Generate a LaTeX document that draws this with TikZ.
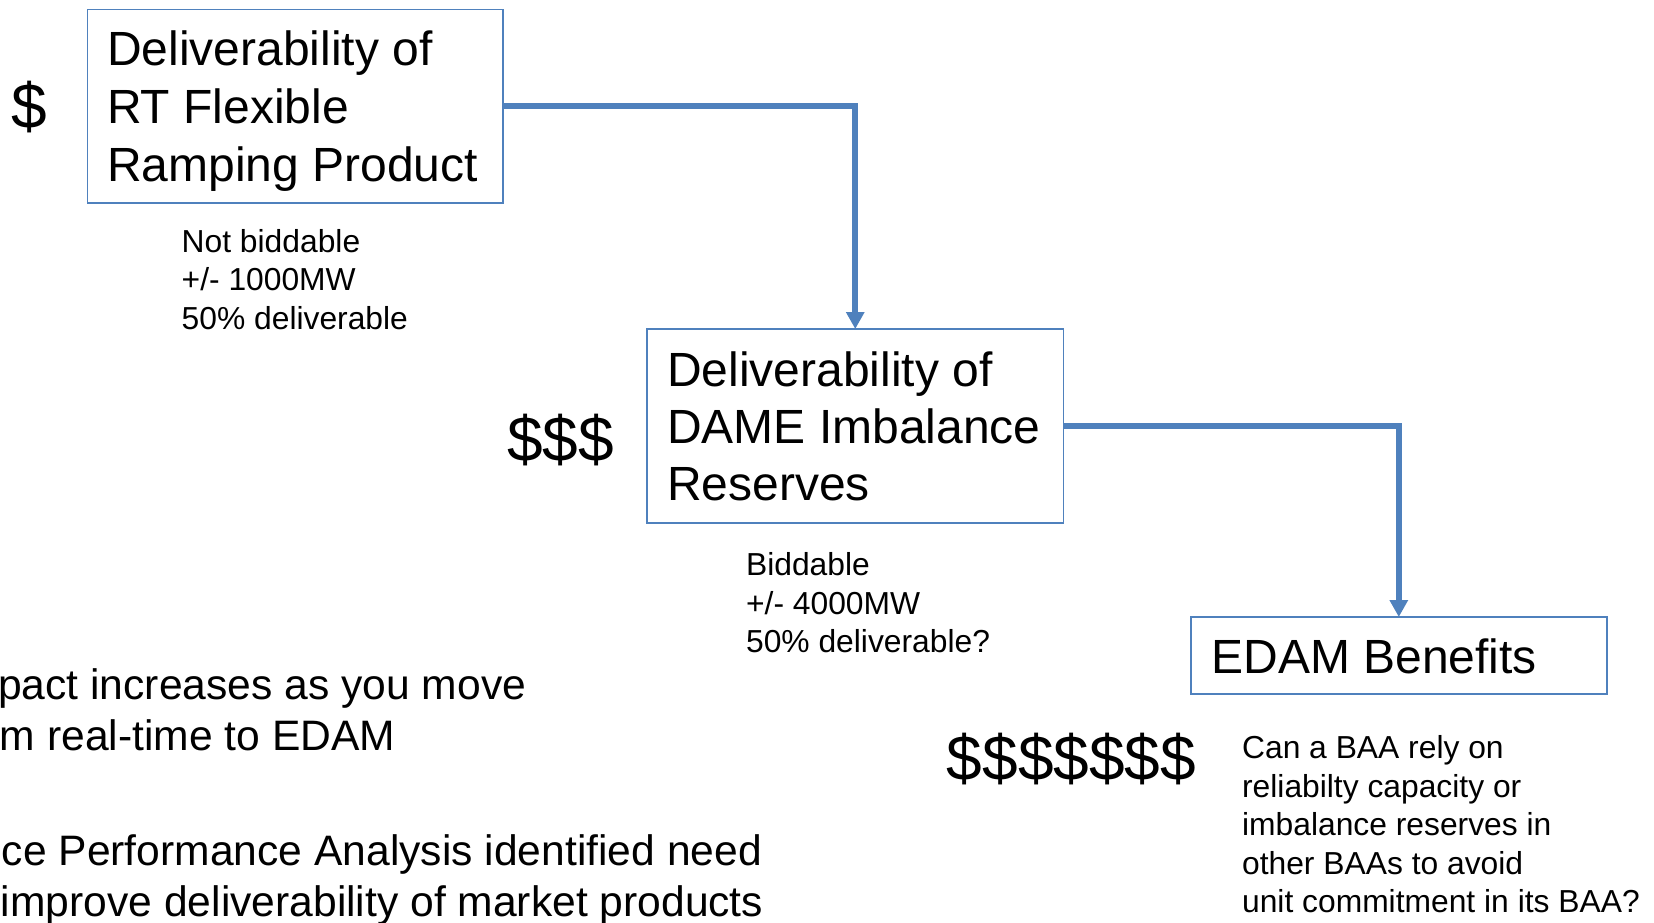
\documentclass[tikz,border=0pt]{standalone}
\usepackage{fontspec}
\setmainfont{Liberation Sans}
\usetikzlibrary{arrows.meta}
\definecolor{boxblue}{RGB}{79,129,189}
\begin{document}
\begin{tikzpicture}[x=0.5pt,y=-0.5pt,
  box/.style={draw=boxblue, line width=0.8pt, inner sep=0pt, outer sep=0pt, rectangle},
  conn/.style={draw=boxblue, line width=2.8pt, -{Triangle[width=8.8pt,length=8.5pt]}},
  big/.style={anchor=base west, inner sep=0pt, font=\fontsize{24pt}{29pt}\selectfont},
  small/.style={anchor=base west, inner sep=0pt, font=\fontsize{15.9pt}{19pt}\selectfont},
  mid/.style={anchor=base west, inner sep=0pt, font=\fontsize{21.3pt}{25pt}\selectfont},
  money/.style={anchor=base west, inner sep=0pt, font=\fontsize{32pt}{38pt}\selectfont}]
\clip (0,0) rectangle (1654,922);
\fill[white] (0,0) rectangle (1654,922);

% boxes
\node[box, minimum width=207.7pt, minimum height=96.7pt] (b1) at (295,106) {};
\node[box, minimum width=208.35pt, minimum height=96.85pt] (b2) at (855.25,425.85) {};
\node[box, minimum width=207.9pt, minimum height=38.5pt] (b3) at (1398.8,655.5) {};

% box texts
\node[big] (b1l1) at (106.7,65) {Deliverability of};
\node[big] (b1l2) at (106.7,123.3) {RT Flexible};
\node[big] (b1l3) at (106.7,181.6) {Ramping Product};
\node[big] (b2l1) at (666.7,386) {Deliverability of};
\node[big] (b2l2) at (666.7,443.3) {DAME Imbalance};
\node[big] (b2l3) at (666.7,500.7) {Reserves};
\node[big] (b3l1) at (1211,673.3) {EDAM Benefits};

% connectors
\draw[conn] (b1.east) -| (b2.north);
\draw[conn] (b2.east) -| (b3.north);

% small notes
\node[small] (n1a) at (181.3,252) {Not biddable};
\node[small] (n1b) at (181.3,290.5) {+/- 1000MW};
\node[small] (n1c) at (181.3,329) {50\% deliverable};
\node[small] (n2a) at (745.7,575.5) {Biddable};
\node[small] (n2b) at (745.7,614) {+/- 4000MW};
\node[small] (n2c) at (745.7,652.5) {50\% deliverable?};
\node[small] (n3a) at (1241.7,758.3) {Can a BAA rely on};
\node[small] (n3b) at (1241.7,797) {reliabilty capacity or};
\node[small] (n3c) at (1241.7,835.6) {imbalance reserves in};
\node[small] (n3d) at (1241.7,874.2) {other BAAs to avoid};
\node[small] (n3e) at (1241.7,912.8) {unit commitment in its BAA?};

% dollar signs
\node[money] (d1) at (11,128.8) {\$};
\node[money] (d3) at (507,461) {\$\$\$};
\node[money] (d7) at (946.5,780) {\$\$\$\$\$\$\$};

% cut-off slide text
\node[mid] (s1) at (-2.3,699) {pact increases as you move};
\node[mid] (s2) at (-0.5,750) {m real-time to EDAM};
\node[mid] (s3) at (1.5,865.5) {ce Performance Analysis identified need};
\node[mid] (s4) at (0.5,916.7) {improve deliverability of market products};
\end{tikzpicture}
\end{document}
